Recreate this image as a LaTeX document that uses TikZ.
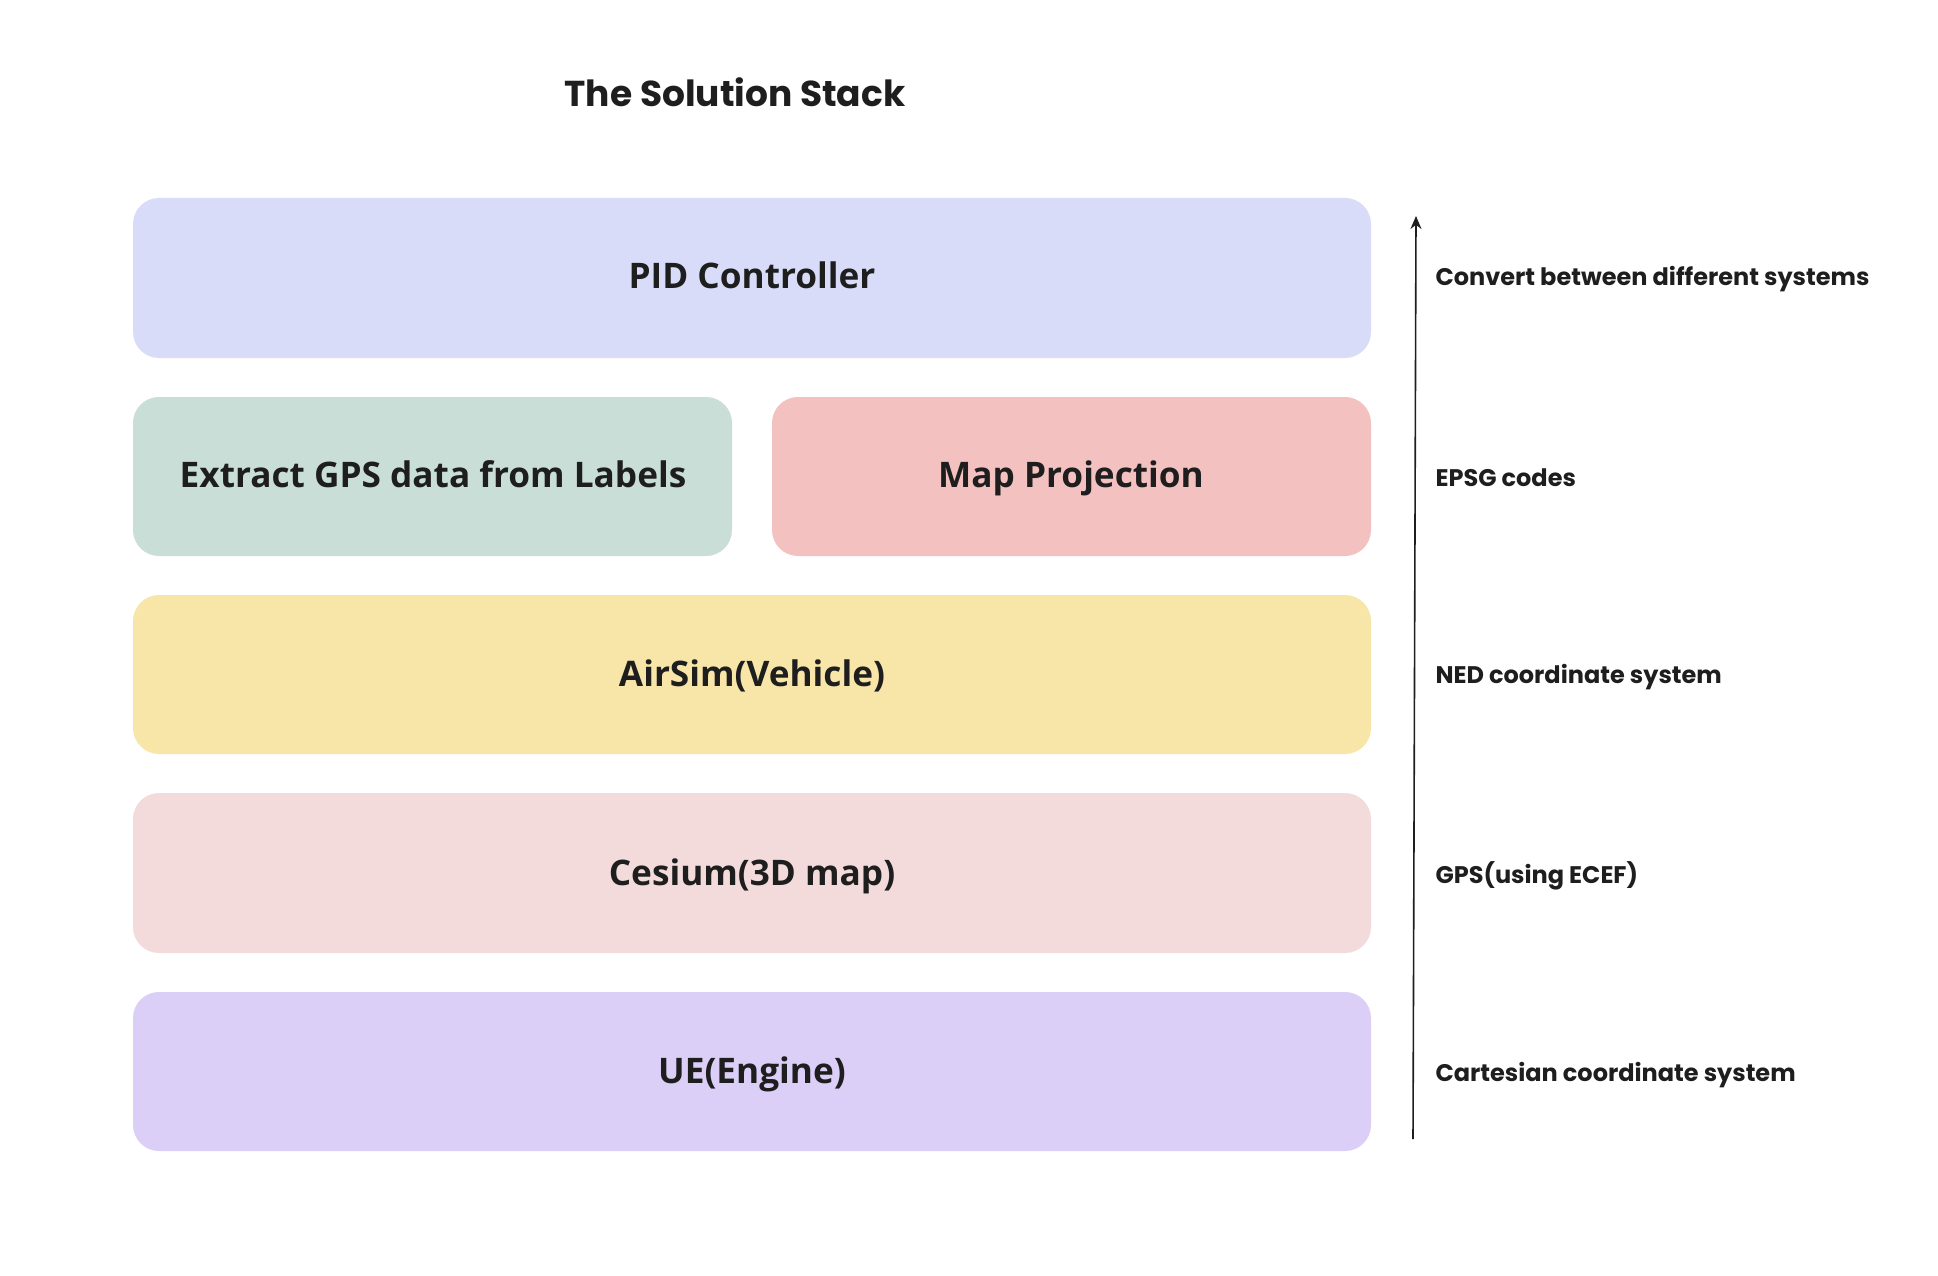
\documentclass[tikz,border=0pt]{standalone}
\usepackage{fontspec}
\setmainfont{Open Sans}
\newfontfamily\labelfont{Poppins}
\usetikzlibrary{arrows.meta}
\definecolor{ink}{HTML}{1E1E1E}
\definecolor{cpid}{HTML}{D9DCF8}
\definecolor{cgreen}{HTML}{C8DED7}
\definecolor{cred}{HTML}{F4C1C1}
\definecolor{cyellow}{HTML}{F8E6A9}
\definecolor{cpink}{HTML}{F3DBDC}
\definecolor{cpurple}{HTML}{DBCFF8}
\begin{document}
\begin{tikzpicture}[x=1pt,y=-1pt,
  layer/.style={rounded corners=26pt, draw=none},
  boxtext/.style={text=ink, text height=0.74em, text depth=0.24em, inner sep=0pt, font=\fontsize{35.2}{42}\selectfont\bfseries},
  sidetext/.style={text=ink, anchor=west, font=\labelfont\bfseries\fontsize{24}{28}\selectfont},
]
\useasboundingbox (0,0) rectangle (1938,1276);
\fill[white] (0,0) rectangle (1938,1276);
\node[text=ink, font=\labelfont\bfseries\fontsize{36}{42}\selectfont] (title) at (735,92) {The Solution Stack};

\fill[layer, cpid] (133,198) rectangle (1371,358);
\node[boxtext] (pid) at (752,286) {PID Controller};
\fill[layer, cgreen] (133,397) rectangle (732,556);
\node[boxtext] (gps) at (433,485) {Extract GPS data from Labels};
\fill[layer, cred] (772,397) rectangle (1371,556);
\node[boxtext] (map) at (1071,485) {Map Projection};
\fill[layer, cyellow] (133,595) rectangle (1371,754);
\node[boxtext] (air) at (752,684) {AirSim(Vehicle)};
\fill[layer, cpink] (133,793) rectangle (1371,953);
\node[boxtext] (ces) at (752,883) {Cesium(3D map)};
\fill[layer, cpurple] (133,992) rectangle (1371,1151);
\node[boxtext] (ue) at (752,1081) {UE(Engine)};

\coordinate (abot) at (1413,1139);
\coordinate (atop) at (1416,216);
\draw[ink, line width=1.6pt, -{Stealth[length=13pt,width=11pt]}] (abot) -- (atop);

\node[sidetext] (l1) at (1432,279) {Convert between different systems};
\node[sidetext] (l2) at (1432,478) {EPSG codes};
\node[sidetext] (l3) at (1432,677) {NED coordinate system};
\node[sidetext] (l4) at (1432,876) {GPS(using ECEF)};
\node[sidetext] (l5) at (1432,1075) {Cartesian coordinate system};
\end{tikzpicture}
\end{document}
